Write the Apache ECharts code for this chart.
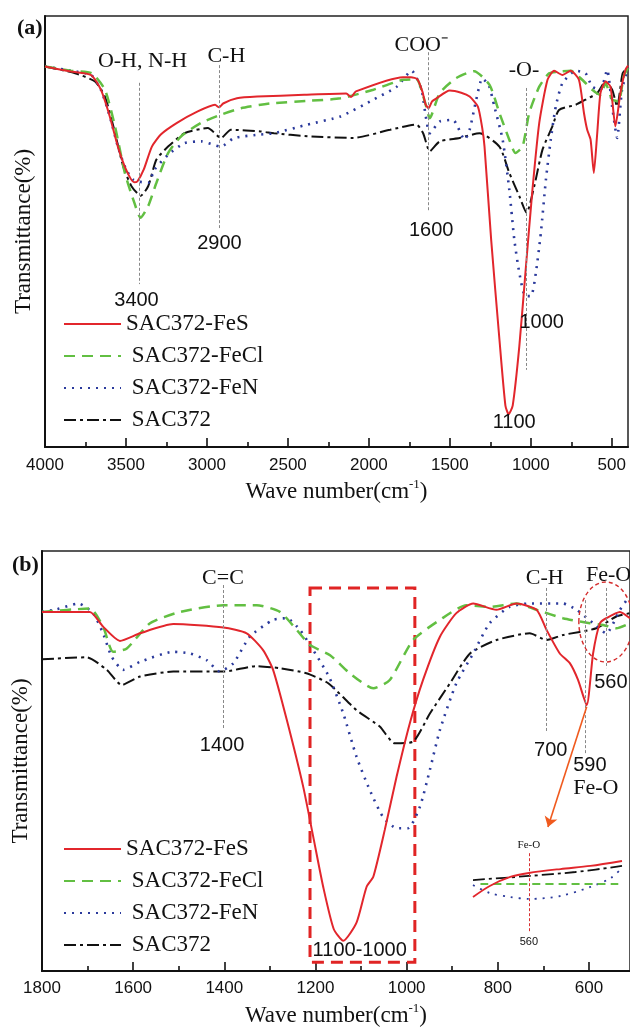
<!DOCTYPE html>
<html>
<head>
<meta charset="utf-8">
<script src="https://cdn.jsdelivr.net/npm/echarts@6/dist/echarts.min.js"></script>
<style>
html,body{margin:0;padding:0;background:#fff}
#main{width:630px;height:1032px}
</style>
</head>
<body>
<div id="main"></div>
<script>
var names = ['SAC372-FeS', 'SAC372-FeCl', 'SAC372-FeN', 'SAC372'];

// panel (a): [wave number, transmittance]
var aFeS = [[4000,88.3],[3840,87.1],[3715,86.3],[3655,82.9],[3600,76.7],[3550,69.7],[3500,64.4],[3450,61.4],[3430,61.6],[3390,64.4],[3340,69.7],[3285,72.5],[3185,75.2],[3060,77.8],[2950,79.4],[2925,78.8],[2900,79.7],[2815,80.9],[2690,81.3],[2400,81.7],[2140,82.0],[2110,81.2],[2080,82.5],[1790,85.8],[1740,85.8],[1700,85.3],[1670,82.5],[1650,79.5],[1632,78.6],[1610,80.2],[1583,80.9],[1501,82.7],[1430,82.2],[1378,81.3],[1327,79],[1300,74],[1286,69.7],[1245,48.1],[1194,25],[1157,9.6],[1137,7.6],[1112,9.6],[1071,23.4],[1030,42],[990,59.7],[948,75.2],[897,85.2],[856,87.3],[805,86.3],[754,87.3],[703,85.2],[672,77.5],[652,73.6],[631,71.3],[611,63.6],[590,72.8],[570,82.1],[539,84.8],[508,83.6],[478,74.4],[447,82.1],[416,87.5],[400,88.5]];
var aFeCl = [[4000,88.3],[3840,87.3],[3711,86.7],[3630,82.9],[3568,74.4],[3507,63.6],[3455,57.4],[3409,53.2],[3363,55.9],[3312,61.3],[3240,68.2],[3159,72.1],[3036,75.2],[2913,77.1],[2790,78.6],[2668,79.4],[2586,79.8],[2381,80.3],[2176,80.9],[1972,82.9],[1788,85.2],[1706,85.3],[1655,80.2],[1624,76.3],[1563,82.1],[1460,85.6],[1350,87.2],[1255,84],[1194,77.5],[1133,71.3],[1095,68.2],[1051,69.7],[1010,77.5],[948,83.6],[887,86.7],[826,87.1],[754,87.3],[683,85.2],[621,82.9],[570,81.7],[539,84.4],[498,80.6],[457,80.2],[427,86],[400,88]];
var aFeN = [[4000,88.3],[3840,87.3],[3715,86.3],[3655,82.9],[3600,76.7],[3550,69.7],[3500,64.4],[3455,62],[3425,61.6],[3363,61.3],[3323,64.4],[3240,67.8],[3139,70.5],[3036,70.9],[2913,69.7],[2832,71.7],[2668,72.5],[2586,72.8],[2381,74.8],[2176,76.7],[1972,80.6],[1828,83.6],[1736,87.3],[1675,82.9],[1650,77],[1624,72.8],[1563,75.5],[1481,75.9],[1409,71.3],[1378,73.6],[1337,80.6],[1300,85.5],[1260,84],[1225,79],[1174,71.3],[1133,59.7],[1102,48.1],[1071,40.4],[1034,35],[999,35],[969,40.4],[938,49.7],[907,62],[877,71.3],[846,79],[805,84.4],[723,87.3],[662,86.7],[621,83.6],[570,82.9],[529,87.5],[498,79],[467,71.7],[437,82.9],[400,88]];
var aSAC = [[4000,88.3],[3814,86.7],[3691,84.8],[3630,81.3],[3578,74.4],[3517,65.1],[3466,60.5],[3409,58.3],[3363,60.5],[3312,66.7],[3240,69.7],[3139,72.8],[2995,74],[2913,71.7],[2852,73.6],[2668,73.2],[2586,72.8],[2381,72.1],[2095,71.7],[1869,73.6],[1706,74.8],[1665,72.8],[1624,68.6],[1563,70.9],[1440,71.7],[1317,72.8],[1194,69.7],[1133,63.6],[1071,58.2],[1026,54.3],[979,60.5],[928,69],[867,74.4],[826,78.2],[723,79.4],[662,80.6],[590,82.1],[539,84.8],[498,82.9],[467,79],[433,86.7],[400,88]];

// panel (b)
var bFeS = [[1800,85.5],[1695,85.5],[1666,82],[1629,78.6],[1585,80.4],[1512,82.6],[1402,81.8],[1351,80.4],[1315,76.4],[1293,71.7],[1263,59.8],[1227,43.9],[1205,32],[1183,20],[1160,10],[1139,7.2],[1110,11.5],[1088,20],[1073,22.5],[1048,33.6],[1022,46.3],[993,59],[964,69.3],[927,79.6],[891,85.2],[854,87.5],[803,86],[759,87.5],[715,86],[693,81.2],[664,75.6],[642,73.3],[624,69.3],[605,63.3],[591,75.6],[576,82.8],[562,84],[532,85.5],[510,84]];
var bFeCl = [[1800,85.5],[1695,86.3],[1666,82],[1644,76],[1614,76.8],[1563,82.8],[1497,85.5],[1402,87.1],[1329,87.1],[1278,85.5],[1241,81.2],[1212,77.6],[1168,75.2],[1125,70.9],[1073,67.3],[1037,69.3],[986,78.8],[927,83.6],[869,87.1],[818,86.7],[759,87.5],[715,86],[657,84],[598,82.8],[569,82.4],[540,81.6],[510,82.8]];
var bFeN = [[1800,85.5],[1768,86.1],[1720,87.5],[1688,85.2],[1666,80.4],[1647,74.8],[1622,71.7],[1585,73.6],[1512,76],[1475,75.6],[1439,74],[1410,71.3],[1380,73.3],[1344,79.6],[1293,83.6],[1263,84],[1234,81.2],[1205,76.4],[1170,70],[1139,61.3],[1110,51],[1081,43.1],[1052,36.7],[1022,34],[997,34],[971,39.1],[949,47.9],[927,57.4],[891,68.5],[854,75.6],[818,82.8],[774,86.7],[730,87.5],[657,87.5],[627,86],[591,82.8],[562,80.4],[532,86],[514,88.8],[510,89]];
var bSAC = [[1800,74.2],[1702,74.7],[1658,71.7],[1625,68.1],[1585,70.1],[1512,71.3],[1402,71.3],[1329,72.6],[1278,72.1],[1220,70.9],[1172,68.5],[1110,62.1],[1059,58.2],[1026,54.2],[986,54.6],[949,61.3],[905,68.5],[861,75.6],[803,78.8],[730,80.4],[693,78.8],[657,80],[584,81.6],[540,84.4],[510,85.2]];

// magnified inset around 560
var iFeS = [[590,48.2],[581,58.2],[570,66.4],[560,70],[543,73.6],[527,76.4],[510,80.9]];
var iFeCl = [[586,60],[512,60]];
var iFeN = [[590,59.1],[581,51.8],[570,48.2],[560,46.4],[543,49.1],[527,57.3],[516,65.5],[510,74.5]];
var iSAC = [[590,63.6],[560,67.3],[535,70.9],[510,76.4]];

// tick values
var aMajor = [500,1000,1500,2000,2500,3000,3500,4000];
var aMinor = [750,1250,1750,2250,2750,3250,3750];
var bMajor = [600,800,1000,1200,1400,1600,1800];
var bMinor = [700,900,1100,1300,1500,1700];

// marker lines [wave number, top, bottom]
var aLines = [[3417,84.5,37.8],[2923,88.6,50.8],[1634,91.6,54.5],[1029,83.3,17.9]];
var bLines = [[1403,91.9,57.4],[693,91.2,56.7],[609,88.3,51.4],[563,91.2,72.1]];

// notes [wave number, transmittance, text, font]
var aNotes = [[3398,89.6,'O-H, N-H','serif'],[2880,90.7,'C-H','serif'],[1677,93.3,'COO\u207B','serif'],[1042,87.5,'-O-','serif'],
  [3435,34.1,'3400','sans'],[2923,47.3,'2900','sans'],[1615,50.3,'1600','sans'],[933,29,'1000','sans'],[1103,5.8,'1100','sans']];
var bNotes = [[1403,93.6,'C=C','serif'],[1405,53.8,'1400','sans'],[697,93.6,'C-H','serif'],[684,52.4,'700','sans'],
  [557,94.3,'Fe-O','serif'],[552,68.6,'560','sans'],[598,49,'590','sans'],[585,43.6,'Fe-O','serif'],[1103,5,'1100-1000','sans']];
var iNotes = [[560,95.5,'Fe-O','small'],[560,7.3,'560','smallsans']];

var SERIF = 'Liberation Serif';
var SANS = 'Liberation Sans';

var styles = {
  'SAC372-FeS': {color: '#e2262c', type: 'solid', width: 2},
  'SAC372-FeCl': {color: '#62bf42', type: [11, 7], width: 2.5},
  'SAC372-FeN': {color: '#2b3a9c', type: [2, 6], width: 2.6},
  'SAC372': {color: '#111', type: [12, 4, 3, 4], width: 2}
};

var charts = echarts.init(document.getElementById('main'));

function mkSeries(name, data, xi, yi, extra) {
  var st = styles[name];
  var s = {
    name: name, type: 'line', data: data, xAxisIndex: xi, yAxisIndex: yi,
    symbol: 'none', smooth: 0.2, silent: true,
    lineStyle: {color: st.color, type: st.type, width: st.width},
    itemStyle: {color: st.color}
  };
  for (var k in extra) s[k] = extra[k];
  return s;
}

function vLines(list, color) {
  return {
    silent: true, symbol: 'none', animation: false,
    label: {show: false},
    lineStyle: {color: color, type: [3, 2], width: 1},
    data: list.map(function (l) { return [{coord: [l[0], l[1]]}, {coord: [l[0], l[2]]}]; })
  };
}

function xPair(grid, min, max, major, minor, margin, gap) {
  var tickStyle = {color: '#111', width: 1.6};
  return [{
    gridIndex: grid, type: 'value', min: min, max: max, inverse: true,
    axisLine: {show: true, lineStyle: {color: '#111', width: 2}},
    axisTick: {show: true, inside: true, length: 9, customValues: major, lineStyle: tickStyle},
    axisLabel: {customValues: major, margin: margin, fontFamily: SANS, fontSize: 17, color: '#111',
      formatter: function (v) { return String(v); }},
    splitLine: {show: false},
    name: '{t|Wave number(cm}{s|-1}{t|)}', nameLocation: 'middle', nameGap: gap,
    nameTextStyle: {rich: {
      t: {fontFamily: SERIF, fontSize: 23, color: '#111'},
      s: {fontFamily: SERIF, fontSize: 13, color: '#111', padding: [0, 0, 14, 0]}
    }}
  }, {
    gridIndex: grid, type: 'value', min: min, max: max, inverse: true, position: 'bottom',
    axisLine: {show: false},
    axisTick: {show: true, inside: true, length: 5, customValues: minor, lineStyle: tickStyle},
    axisLabel: {show: false},
    splitLine: {show: false}
  }];
}

function yAx(grid) {
  return {
    gridIndex: grid, type: 'value', min: 0, max: 100,
    axisLine: {show: true, lineStyle: {color: '#111', width: 2}},
    axisTick: {show: false}, axisLabel: {show: false}, splitLine: {show: false},
    name: 'Transmittance(%)', nameLocation: 'middle', nameGap: 10,
    nameTextStyle: {fontFamily: SERIF, fontSize: 23, color: '#111'}
  };
}

function legendAt(top) {
  return {
    data: names, orient: 'vertical', left: 58, top: top,
    itemWidth: 57, itemHeight: 14, itemGap: 8,
    itemStyle: {opacity: 0},
    formatter: function (n) { return n === 'SAC372-FeS' ? n : ' ' + n; },
    textStyle: {fontFamily: SERIF, fontSize: 23, color: '#111', lineHeight: 24},
    selectedMode: false
  };
}

var order = ['SAC372', 'SAC372-FeN', 'SAC372-FeCl', 'SAC372-FeS'];
var aData = {'SAC372-FeS': aFeS, 'SAC372-FeCl': aFeCl, 'SAC372-FeN': aFeN, 'SAC372': aSAC};
var bData = {'SAC372-FeS': bFeS, 'SAC372-FeCl': bFeCl, 'SAC372-FeN': bFeN, 'SAC372': bSAC};
var iData = {'SAC372-FeS': iFeS, 'SAC372-FeCl': iFeCl, 'SAC372-FeN': iFeN, 'SAC372': iSAC};

var series = [];
order.forEach(function (n) {
  var ex = {};
  if (n === 'SAC372') ex.markLine = vLines(aLines, '#888');
  series.push(mkSeries(n, aData[n], 0, 0, ex));
});
order.forEach(function (n) {
  var ex = {};
  if (n === 'SAC372') ex.markLine = vLines(bLines, '#888');
  if (n === 'SAC372-FeCl') ex.markLine = {
    silent: true, symbol: ['none', 'arrow'], symbolSize: 10, label: {show: false},
    lineStyle: {color: '#f05a1e', type: 'solid', width: 1.6},
    data: [[{coord: [605, 62.9]}, {coord: [690, 34.3]}]]
  };
  if (n === 'SAC372-FeS') ex.markArea = {
    silent: true, label: {show: false},
    itemStyle: {color: 'rgba(0,0,0,0)', borderColor: '#e02424', borderWidth: 3, borderType: [12, 7]},
    data: [[{coord: [1212, 91.2]}, {coord: [982, 2.1]}]]
  };
  series.push(mkSeries(n, bData[n], 2, 1, ex));
});
order.forEach(function (n) {
  var ex = {smooth: 0.3, lineStyle: {color: styles[n].color, type: styles[n].type, width: 1.8}};
  if (n === 'SAC372-FeCl') ex.lineStyle.type = [8, 5];
  if (n === 'SAC372-FeS') ex.markLine = vLines([[560, 88, 15.5]], '#d83030');
  series.push(mkSeries(n, iData[n], 4, 2, ex));
});

var option = {
  animation: false,
  backgroundColor: '#fff',
  grid: [
    {left: 45, right: 2, top: 16, height: 431, show: true, borderColor: '#222', borderWidth: 1.5, backgroundColor: 'transparent'},
    {left: 42, right: 0, top: 551, height: 420, show: true, borderColor: '#222', borderWidth: 1.5, backgroundColor: 'transparent'},
    {left: 473, width: 149, top: 840, height: 110, show: false}
  ],
  xAxis: xPair(0, 400, 4000, aMajor, aMinor, 10, 31)
    .concat(xPair(1, 510, 1800, bMajor, bMinor, 9, 31))
    .concat([{gridIndex: 2, type: 'value', min: 510, max: 590, inverse: true, show: false}]),
  yAxis: [yAx(0), yAx(1), {gridIndex: 2, type: 'value', min: 0, max: 100, show: false}],
  legend: [legendAt(307), legendAt(832)],
  series: series
};
charts.setOption(option);

// text notes placed through the axes
function notesToGraphic(list, xi, yi) {
  return list.map(function (n) {
    var p = charts.convertToPixel({xAxisIndex: xi, yAxisIndex: yi}, [n[0], n[1]]);
    var fam = SERIF, size = 22;
    if (n[3] === 'sans') { fam = SANS; size = 20; }
    if (n[3] === 'small') { fam = SERIF; size = 11; }
    if (n[3] === 'smallsans') { fam = SANS; size = 11; }
    return {type: 'text', x: p[0], y: p[1], silent: true, z: 100,
      style: {text: n[2], fontFamily: fam, fontSize: size, fill: '#111', align: 'center', verticalAlign: 'middle'}};
  });
}

var g = [].concat(notesToGraphic(aNotes, 0, 0), notesToGraphic(bNotes, 2, 1), notesToGraphic(iNotes, 4, 2));
var ec = charts.convertToPixel({xAxisIndex: 2, yAxisIndex: 1}, [563, 83.1]);
g.push({type: 'ellipse', silent: true, z: 100, shape: {cx: ec[0], cy: ec[1], rx: 27, ry: 40},
  style: {fill: 'none', stroke: '#d42a2a', lineWidth: 1.4, lineDash: [4, 3]}});
g.push({type: 'text', x: 17, y: 28, silent: true,
  style: {text: '(a)', fontFamily: SERIF, fontSize: 22, fontWeight: 'bold', fill: '#111', align: 'left', verticalAlign: 'middle'}});
g.push({type: 'text', x: 12, y: 565, silent: true,
  style: {text: '(b)', fontFamily: SERIF, fontSize: 22, fontWeight: 'bold', fill: '#111', align: 'left', verticalAlign: 'middle'}});
charts.setOption({graphic: g});
</script>
</body>
</html>
